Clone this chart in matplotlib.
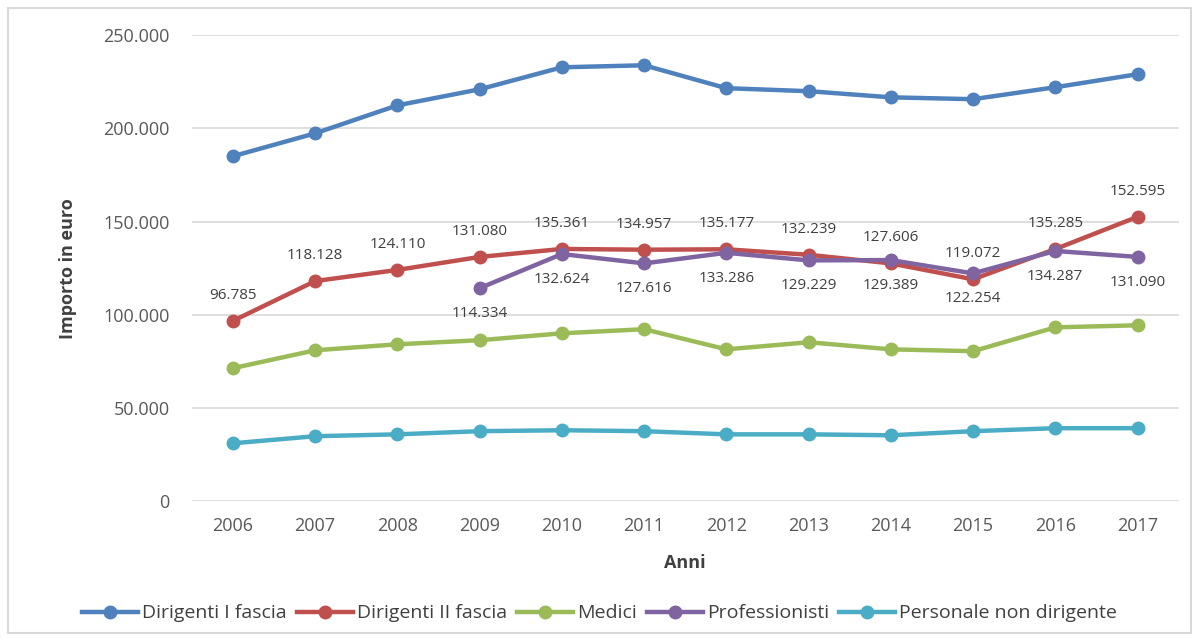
import matplotlib.pyplot as plt
from matplotlib.patches import Rectangle
from matplotlib.ticker import FuncFormatter

anni = [2006, 2007, 2008, 2009, 2010, 2011, 2012, 2013, 2014, 2015, 2016, 2017]
dirigenti_1 = [185100, 197400, 212400, 221000, 232800, 233900, 221600, 220000, 216700, 215700, 222100, 229100]
dirigenti_2 = [96785, 118128, 124110, 131080, 135361, 134957, 135177, 132239, 127606, 119072, 135285, 152595]
medici = [71400, 81000, 84200, 86400, 90100, 92300, 81500, 85300, 81500, 80500, 93300, 94400]
anni_prof = [2009, 2010, 2011, 2012, 2013, 2014, 2015, 2016, 2017]
professionisti = [114334, 132624, 127616, 133286, 129229, 129389, 122254, 134287, 131090]
personale = [31100, 34900, 35900, 37600, 38100, 37600, 35900, 35900, 35400, 37600, 39200, 39200]

def fmt(v):
    return f"{v:,.0f}".replace(",", ".")

plt.rcParams['font.family'] = ['Open Sans', 'DejaVu Sans']
fig = plt.figure(figsize=(11.99, 6.41), dpi=100)
ax = fig.add_axes([0.160, 0.218, 0.823, 0.727])

pos = {a: i for i, a in enumerate(anni)}
x = [pos[a] for a in anni]
xp = [pos[a] for a in anni_prof]

style = dict(lw=3.2, marker='o', ms=9)
ax.plot(x, dirigenti_1, color='#4F81BD', label='Dirigenti I fascia', **style)
ax.plot(x, dirigenti_2, color='#C0504D', label='Dirigenti II fascia', **style)
ax.plot(x, medici, color='#9BBB59', label='Medici', **style)
ax.plot(xp, professionisti, color='#8064A2', label='Professionisti', **style)
ax.plot(x, personale, color='#4BACC6', label='Personale non dirigente', **style)

for xi, v in zip(x, dirigenti_2):
    ax.annotate(fmt(v), (xi, v), xytext=(0, 13), textcoords='offset points',
                ha='center', va='bottom', fontsize=11, color='#404040')
for xi, v in zip(xp, professionisti):
    ax.annotate(fmt(v), (xi, v), xytext=(0, -13), textcoords='offset points',
                ha='center', va='top', fontsize=11, color='#404040')

ax.set_xlim(-0.5, len(anni) - 0.5)
ax.set_ylim(0, 250000)
ax.set_yticks(range(0, 250001, 50000))
ax.yaxis.set_major_formatter(FuncFormatter(lambda v, p: fmt(v)))
ax.set_xticks(x)
ax.set_xticklabels([str(a) for a in anni])
ax.grid(axis='y', color='#D9D9D9', lw=1.2)
ax.set_axisbelow(True)
for s in ax.spines.values():
    s.set_visible(False)
ax.tick_params(length=0, labelsize=13, colors='#595959', pad=11)
ax.tick_params(axis='y', pad=16)

ax.set_ylabel('Importo in euro', fontsize=13, fontweight='bold', color='#404040', labelpad=19)
ax.set_xlabel('Anni', fontsize=13, fontweight='bold', color='#404040', labelpad=14)

fig.legend(loc='center', bbox_to_anchor=(0.5, 0.043), ncol=5, frameon=False,
           fontsize=14, handlelength=2.9, columnspacing=0.5, handletextpad=0.2,
           labelcolor='#404040')

fig.patches.append(Rectangle((0.007, 0.012), 0.986, 0.975, transform=fig.transFigure,
                             fill=False, edgecolor='#D9D9D9', lw=1.5))

fig.savefig('out.png', dpi=100)
